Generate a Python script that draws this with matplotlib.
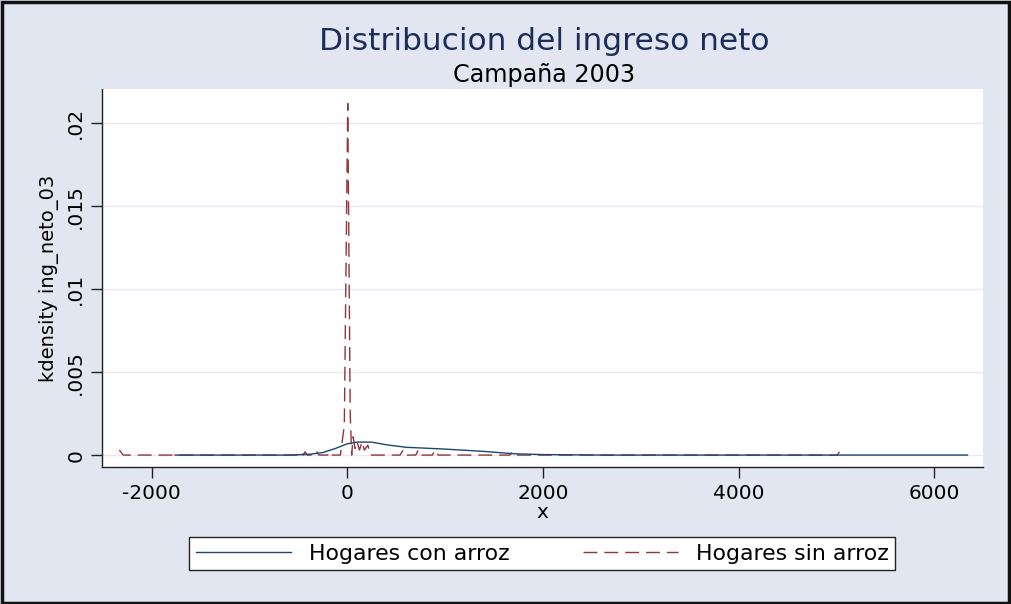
import matplotlib
matplotlib.use("Agg")
import matplotlib.pyplot as plt
from matplotlib.lines import Line2D

# Kernel density of net income, 2003 season
con_x = [-1760, -1200, -600, -400, -250, -120, 0, 100, 250, 400, 600, 1000, 1400, 1700, 2000, 2600, 3500, 5000, 6340]
con_y = [0.0, 0.0, 0.0, 0.00004, 0.00015, 0.0004, 0.00068, 0.00078, 0.00078, 0.00062, 0.00047, 0.00036, 0.00022, 0.00008, 0.00003, 0.0, 0.0, 0.0, 0.0]

sin_x = [-2330, -2290, -520, -470, -450, -430, -410, -330, -310, -290, -200, -180, -160, -70,
         -30, 5, 30, 45, 60, 80, 100, 125, 150, 175, 210, 240, 270, 540, 570, 600, 700, 725,
         750, 870, 900, 930, 1660, 1690, 1720, 5010, 5030]
sin_y = [0.0003, 0.0, 0.0, 0.0002, 0.0, 0.0002, 0.0, 0.0, 0.0002, 0.0, 0.0, 0.0002, 0.0, 0.0,
         0.0018, 0.0212, 0.0025, 0.0, 0.0011, 0.0004, 0.0008, 0.0003, 0.0008, 0.0003, 0.0006, 0.0, 0.0, 0.0, 0.0003, 0.0, 0.0, 0.0003,
         0.0, 0.0, 0.0003, 0.0, 0.0, 0.0002, 0.0, 0.0, 0.0002]

x_ticks = [-2000, 0, 2000, 4000, 6000]
y_ticks = [0, 0.005, 0.01, 0.015, 0.02]
y_ticklabels = ["0", ".005", ".01", ".015", ".02"]
series_labels = ["Hogares con arroz", "Hogares sin arroz"]

plt.rcParams["font.family"] = ["DejaVu Sans"]

bg = "#e1e6f0"
blue = "#1a476f"
red = "#90353b"
dash = (10, 5)

fig = plt.figure(figsize=(10.12, 6.04), dpi=100, facecolor=bg)
ax = fig.add_axes([0.1008, 0.2268, 0.9713 - 0.1008, 0.8526 - 0.2268])
ax.set_facecolor("white")

for yt in y_ticks:
    ax.axhline(yt, color="#e6e9f2", lw=1.0, zorder=0)

ax.plot(con_x, con_y, color=blue, lw=1.0, zorder=3)
ax.plot(sin_x, sin_y, color=red, lw=1.0, dashes=dash, zorder=2)

ax.set_xlim(-2507, 6498)
ax.set_ylim(-0.00072, 0.02207)
ax.set_xticks(x_ticks)
ax.set_xticklabels([str(v) for v in x_ticks], fontsize=14.5)
ax.set_yticks(y_ticks)
ax.set_yticklabels(y_ticklabels, fontsize=14.5, rotation=90, va="center")
ax.tick_params(axis="both", direction="out", length=8, width=1, color="#222222", pad=4)

for side in ["top", "right"]:
    ax.spines[side].set_visible(False)
for side in ["left", "bottom"]:
    ax.spines[side].set_color("#222222")
    ax.spines[side].set_linewidth(1.0)

ax.set_xlabel("x", fontsize=14.5, labelpad=0)
ax.set_ylabel("kdensity ing_neto_03", fontsize=14, labelpad=5)

fig.text(0.5375, 1 - 50 / 604, "Distribucion del ingreso neto", ha="center", va="baseline",
         fontsize=22.5, color="#1c2d5c")
fig.text(0.5375, 1 - 82 / 604, "Campaña 2003", ha="center", va="baseline",
         fontsize=17.2, color="black")

handles = [Line2D([], [], color=blue, lw=1.0),
           Line2D([], [], color=red, lw=1.0, dashes=dash)]
leg = fig.legend(handles, series_labels, loc="center", mode="expand",
                 bbox_to_anchor=(189 / 1012, 1 - 572 / 604, 706 / 1012, 37 / 604),
                 ncol=2, fontsize=15.8,
                 frameon=True, fancybox=False, edgecolor="#222222", framealpha=1.0,
                 handlelength=4.33, handletextpad=0.82, columnspacing=2.65,
                 borderpad=0.3, borderaxespad=0)
leg.get_frame().set_linewidth(1.0)
leg.get_frame().set_facecolor("white")

# outer frame around the whole figure
fig.patches.append(plt.Rectangle((0.002, 0.002), 0.995, 0.995, transform=fig.transFigure,
                                 fill=False, edgecolor="#111111", lw=2.5))

fig.savefig("out.png", dpi=100, facecolor=bg)
